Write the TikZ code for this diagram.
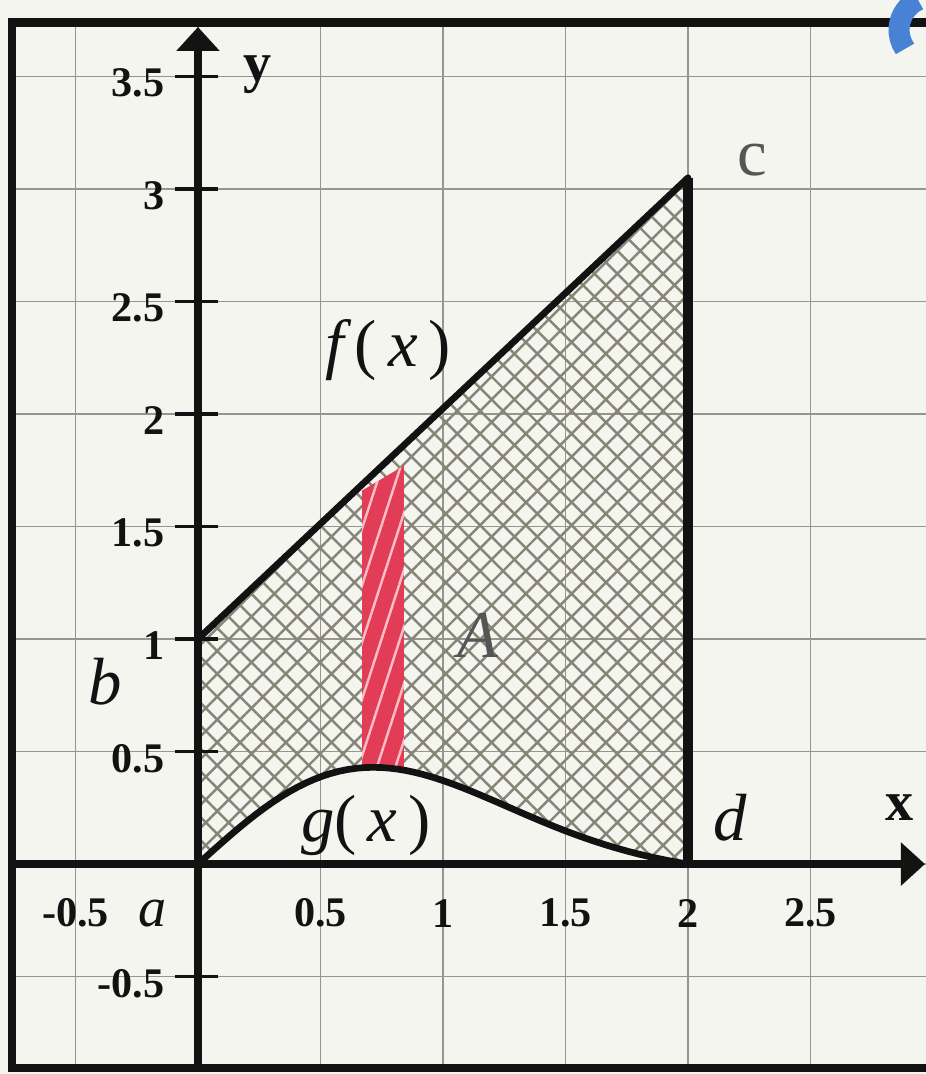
\documentclass[tikz,border=0pt]{standalone}
\usepackage{fontspec}
\setmainfont{Liberation Serif}
\usetikzlibrary{arrows.meta,patterns.meta}
\definecolor{paper}{RGB}{244,245,238}
\definecolor{gridgray}{RGB}{150,150,142}
\definecolor{hatchgray}{RGB}{135,133,120}
\definecolor{ink}{RGB}{18,18,18}
\definecolor{pencil}{RGB}{85,85,85}
\definecolor{stripred}{RGB}{226,60,86}
\definecolor{stripsheen}{RGB}{250,190,198}
\definecolor{penblue}{RGB}{72,130,212}

\begin{document}
\begin{tikzpicture}[x=2.45cm, y=2.25cm,
    declare function={fcurve(\t)=1+1.025*\t; gcurve(\t)=1.01*\t*exp(-0.94*\t*\t)-0.0235*\t;},
    gridline/.style={gridgray, line width=0.5pt},
    axisline/.style={ink, line width=2.4pt, -{Triangle[length=0.24cm, width=0.42cm]}},
    curve/.style={ink, line width=1.9pt, line cap=round, line join=round},
    ticknum/.style={ink, inner sep=1pt, font=\bfseries\fontsize{12}{14}\selectfont},
    axisname/.style={ink, font=\bfseries\fontsize{16}{18}\selectfont},
    letter/.style={ink, font=\itshape\fontsize{19}{22}\selectfont}]
    \path[use as bounding box, fill=paper] (-0.808,-0.933) rectangle (2.971,3.84);
    \coordinate (O) at (0,0);
    \coordinate (B) at (0,1);
    \coordinate (C) at (2,{fcurve(2)});
    \coordinate (D) at (2,0);
    \coordinate (inkspot) at (2.996,3.707);
    \draw[gridline] (-0.759,-0.907) grid[step=0.5] (2.971,3.74);
    \fill[pattern={Hatch[angle=45, distance=4.6pt, line width=0.7pt]}, pattern color=hatchgray]
      (O) -- plot[domain=0:2, samples=60] (\x, {gcurve(\x)}) -- (C) -- (B) -- cycle;
    \fill[stripred, postaction={pattern={Lines[angle=72, distance=5pt, line width=0.7pt]}, pattern color=stripsheen}]
      (0.67,{gcurve(0.67)}) -- plot[domain=0.67:0.84, samples=10] (\x, {gcurve(\x)}) -- (0.84,1.77) -- (0.67,1.66) -- cycle;
    \draw[ink, line width=2.3pt] (2.971,3.74) -- (-0.759,3.74) -- (-0.759,-0.907) -- (2.971,-0.907);
    \draw[axisline] (-0.759,0) -- (2.967,0);
    \draw[axisline] (0,-0.907) -- (0,3.72);
    \foreach \v in {-0.5,0.5,1,1.5,2,2.5,3,3.5} {
      \draw[ink, line width=1pt] (-0.094,\v) -- (0.082,\v);
      \node[ticknum, anchor=east] at (-0.12,\v-0.03) {\v};
    }
    \foreach \u in {-0.5,0.5,1,1.5,2,2.5}
      \node[ticknum] at (\u,-0.218) {\u};
    \draw[curve] (O) -- plot[domain=0:2, samples=60] (\x, {gcurve(\x)});
    \draw[curve] (B) -- (C);
    \draw[ink, line width=3pt] (D) -- (C);
    \node[axisname] at (0.245,3.507) {y};
    \node[axisname] at (2.865,0.249) {x};
    \node[letter, font=\itshape\fontsize{16}{18}\selectfont] at (-0.184,-0.218) {a};
    \node[letter] at (-0.38,0.81) {b};
    \node[letter, pencil, font=\fontsize{19}{22}\selectfont] at (2.261,3.129) {c};
    \node[letter] at (2.171,0.204) {d};
    \node[letter] at (0.776,2.284) {f\,{\upshape(}\,x\,{\upshape)}};
    \node[letter] at (0.686,0.173) {g{\upshape(}\,x\,{\upshape)}};
    \node[letter, pencil] at (1.143,1.018) {A};
    \draw[penblue, line width=6pt] ([shift={(115:0.33cm)}]inkspot) arc[start angle=115, end angle=215, radius=0.33cm];
\end{tikzpicture}
\end{document}
